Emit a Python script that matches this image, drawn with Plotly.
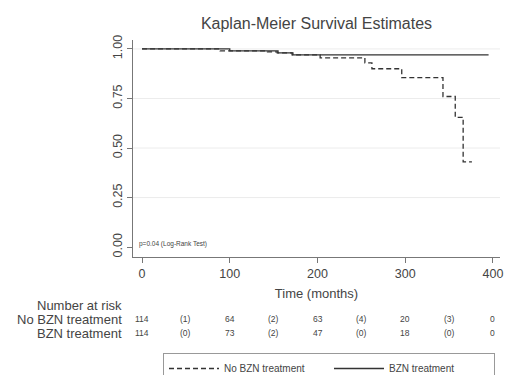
import plotly.graph_objects as go

# Kaplan-Meier step data (time in months, survival probability)
no_bzn_time = [0, 89, 143, 154, 171, 203, 254, 262, 296, 343, 357, 366, 376]
no_bzn_surv = [1.0, 0.99, 0.985, 0.98, 0.97, 0.955, 0.93, 0.90, 0.855, 0.76, 0.655, 0.43, 0.43]
bzn_time = [0, 100, 155, 172, 395]
bzn_surv = [1.0, 0.99, 0.98, 0.97, 0.97]

# Number at risk table
risk_times = [0, 50, 100, 150, 200, 250, 300, 350, 400]
risk_no_bzn = ["114", "(1)", "64", "(2)", "63", "(4)", "20", "(3)", "0"]
risk_bzn = ["114", "(0)", "73", "(2)", "47", "(0)", "18", "(0)", "0"]

x_ticks = [0, 100, 200, 300, 400]
y_ticks = [0.0, 0.25, 0.5, 0.75, 1.0]
y_ticklabels = ["0.00", "0.25", "0.50", "0.75", "1.00"]
grid_vals = [0.25, 0.5, 0.75, 1.0]

TXT = "#444444"
LINE = "#333333"
FONT = "Liberation Sans, Arial, sans-serif"

fig = go.Figure()
fig.add_trace(go.Scatter(x=no_bzn_time, y=no_bzn_surv, mode="lines", line_shape="hv",
                         name="No BZN treatment",
                         line=dict(color=LINE, width=1.3, dash="5px,3px")))
fig.add_trace(go.Scatter(x=bzn_time, y=bzn_surv, mode="lines", line_shape="hv",
                         name="BZN treatment",
                         line=dict(color=LINE, width=1.3)))

L, R, T, B = 133, 8, 40, 118
W, H = 508, 375
ph = H - T - B

def py(pix):
    return (H - B - pix) / ph

shapes = []
for g in grid_vals:
    shapes.append(dict(type="line", xref="paper", x0=0, x1=1, yref="y", y0=g, y1=g,
                       line=dict(color="#ececec", width=1), layer="below"))

LBL_X = (124 - L) / (W - L - R)
ann = []
ann.append(dict(text="p=0.04 (Log-Rank Test)", xref="paper", yref="paper", x=0.01, y=py(244),
                xanchor="left", yanchor="middle", showarrow=False,
                font=dict(size=6.5, color=TXT, family=FONT)))
ann.append(dict(text="Number at risk", xref="paper", yref="paper", x=LBL_X,
                y=py(305), xanchor="right", yanchor="middle", showarrow=False,
                font=dict(size=13, color=TXT, family=FONT)))
ann.append(dict(text="No BZN treatment", xref="paper", yref="paper", x=LBL_X,
                y=py(319), xanchor="right", yanchor="middle", showarrow=False,
                font=dict(size=13, color=TXT, family=FONT)))
ann.append(dict(text="BZN treatment", xref="paper", yref="paper", x=LBL_X,
                y=py(333), xanchor="right", yanchor="middle", showarrow=False,
                font=dict(size=13, color=TXT, family=FONT)))
for t, a, b in zip(risk_times, risk_no_bzn, risk_bzn):
    ann.append(dict(text=a, xref="x", yref="paper", x=t, y=py(319), xanchor="center",
                    yanchor="middle", showarrow=False, font=dict(size=8.5, color=TXT, family=FONT)))
    ann.append(dict(text=b, xref="x", yref="paper", x=t, y=py(333), xanchor="center",
                    yanchor="middle", showarrow=False, font=dict(size=8.5, color=TXT, family=FONT)))

fig.update_layout(
    width=W, height=H,
    margin=dict(l=L, r=R, t=T, b=B, autoexpand=False),
    paper_bgcolor="white", plot_bgcolor="white",
    font=dict(family=FONT, color=TXT),
    title=dict(text="Kaplan-Meier Survival Estimates", x=(L + (W - R)) / 2 / W, xanchor="center",
               y=1 - 23 / H, yanchor="middle", font=dict(size=16, color=TXT, family=FONT)),
    xaxis=dict(range=[-10.3, 408], tickvals=x_ticks, showgrid=False, zeroline=False,
               showline=True, linecolor="#777777", linewidth=1,
               ticks="outside", ticklen=5, tickcolor="#777777",
               tickfont=dict(size=12.5, color=TXT, family=FONT), automargin=False,
               title=dict(text="Time (months)", standoff=8, font=dict(size=13, color=TXT, family=FONT))),
    yaxis=dict(range=[-0.05, 1.045], tickvals=y_ticks, ticktext=y_ticklabels, tickangle=-90,
               showgrid=False, zeroline=False, automargin=False,
               showline=True, linecolor="#777777", linewidth=1,
               ticks="outside", ticklen=5, tickcolor="#777777",
               tickfont=dict(size=12.5, color=TXT, family=FONT)),
    showlegend=True,
    legend=dict(orientation="h", xref="container", yref="container",
                x=163 / W, y=1 - 353 / H, xanchor="left", yanchor="top",
                bordercolor="#999999", borderwidth=1, bgcolor="white",
                font=dict(size=10, color=TXT, family=FONT),
                entrywidth=100, entrywidthmode="pixels", itemwidth=50,
                tracegroupgap=0),
    shapes=shapes,
    annotations=ann,
)

fig.write_html("out.html", config={"displayModeBar": False},
               post_script="document.body.style.margin='0';document.body.style.padding='0';")
